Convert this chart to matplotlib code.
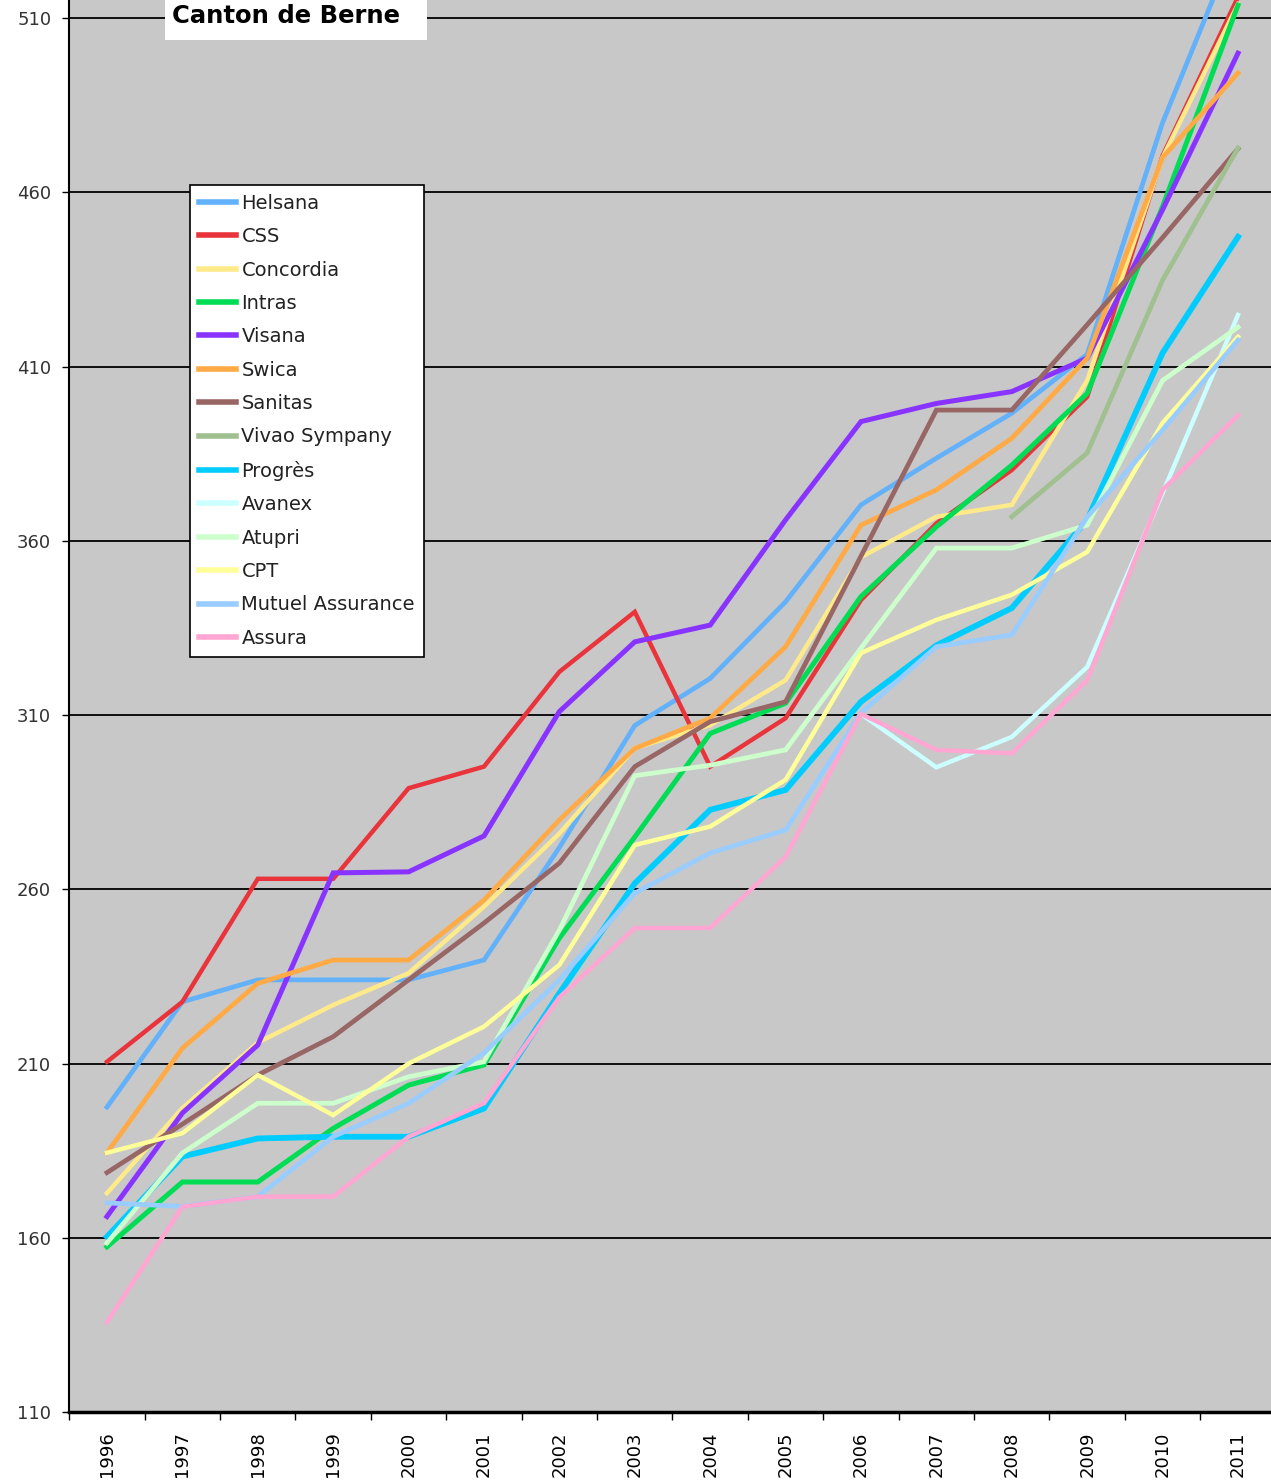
import numpy as np
import matplotlib
matplotlib.use('Agg')
import matplotlib.pyplot as plt
from matplotlib.patches import Rectangle

years = list(range(1996, 2012))
nan = np.nan

helsana = [197.5, 227.7, 234, 234, 234, 239.7, 272, 307, 320.5, 342.5, 370.3, 383.7, 396.6, 413.5, 480, 533]
css = [210.5, 227.7, 263, 263, 289, 295.2, 322.4, 339.6, 295.2, 309.1, 343, 365, 380.3, 401.3, 470.5, 516]
concordia = [172.8, 197.2, 216, 226.8, 235.9, 255, 276, 300.5, 307.1, 320, 355.3, 366.9, 370.3, 406, 470, 514]
intras = [157.4, 176, 176, 191.4, 203.8, 209.6, 246, 275, 304.7, 313.4, 344, 364, 381.7, 402.3, 455.9, 513.7]
visana = [166.1, 195.8, 215.3, 264.7, 265, 275.3, 311, 331, 335.8, 366, 394.2, 399.4, 402.8, 412.4, 455, 499.9]
swica = [184.4, 214.4, 233, 239.7, 239.7, 256.9, 279.9, 300.4, 309.1, 329.6, 364.5, 374.6, 389.4, 412.4, 470, 494.2]
sanitas = [178.7, 192.6, 206.7, 217.7, 234, 250.3, 267.5, 295.2, 308.1, 313.8, 355.6, 397.5, 397.5, 422, 447, 472.5]
vivao = [nan] * 12 + [366.9, 385.2, 434.8, 472.7]
progres = [160.3, 183.3, 188.5, 189, 189, 197.1, 230.2, 261.7, 282.8, 288.5, 313.8, 330, 340.7, 366, 413.9, 447.2]
avanex = [nan] * 10 + [310.3, 295, 303.7, 323.8, 373.7, 424.8]
atupri = [158.5, 184.3, 198.6, 198.6, 206.2, 210.5, 248.3, 292.6, 295.6, 300, 329.2, 357.9, 357.9, 364.5, 406, 421.3]
cpt = [184.4, 190, 206.7, 195.2, 210, 220.6, 238.3, 272.7, 278, 291.4, 327.8, 337.3, 344.5, 356.8, 393.8, 418.5]
mutuel = [170, 169, 171.8, 189, 198.6, 213, 234, 258.9, 270.4, 277, 310.6, 329.6, 333, 366.8, 391.8, 417.6]
assura = [135.8, 168.9, 171.8, 171.8, 189, 198.6, 229, 248.9, 248.9, 269.3, 310.3, 300, 299, 320, 374.6, 396]

series = [
    ("Helsana", helsana, '#63b1fa', 3.4),
    ("CSS", css, '#e8343a', 3.2),
    ("Concordia", concordia, '#ffea8a', 3.2),
    ("Intras", intras, '#00dd55', 3.6),
    ("Visana", visana, '#8833ff', 3.6),
    ("Swica", swica, '#ffaa44', 3.4),
    ("Sanitas", sanitas, '#996666', 3.4),
    ("Vivao Sympany", vivao, '#a0c090', 3.4),
    ("Progrès", progres, '#00ccff', 4.2),
    ("Avanex", avanex, '#ccffff', 3.2),
    ("Atupri", atupri, '#ccffcc', 3.4),
    ("CPT", cpt, '#ffff99', 3.2),
    ("Mutuel Assurance", mutuel, '#99ccff', 3.4),
    ("Assura", assura, '#ffa6d2', 3.2),
]

yticks = list(range(110, 511, 50))

fig = plt.figure(figsize=(12.71, 14.84), dpi=100)
ax = fig.add_axes([0.0545, 0.0485, 0.9492, 0.9515])
ax.set_facecolor('#c8c8c8')

for name, vals, col, lw in series:
    ax.plot(years, vals, color=col, lw=lw, label=name, solid_joinstyle='miter')

ax.set_xlim(1995.5, 2011.5)
ax.set_ylim(110, 515.17)
ax.set_yticks(yticks)
ax.tick_params(axis='y', labelsize=13, length=5, width=1, pad=8)
for t in ax.get_yticklabels():
    t.set_color('#333333')
ax.yaxis.grid(True, color='black', lw=1.3)
ax.set_axisbelow(True)

# ticks sit between the categories, labels at the centres
bounds = [y - 0.5 for y in years] + [2011.5]
ax.set_xticks(bounds)
ax.set_xticklabels([])
ax.set_xticks(years, minor=True)
ax.set_xticklabels([str(y) for y in years], minor=True, rotation=90, fontsize=13)
ax.tick_params(axis='x', which='major', length=6, width=1)
ax.tick_params(axis='x', which='minor', length=0, pad=14)

ax.spines['top'].set_visible(False)
ax.spines['right'].set_visible(False)
ax.spines['left'].set_linewidth(1.5)
ax.spines['bottom'].set_linewidth(2.5)

leg = ax.legend(loc='upper left', bbox_to_anchor=(0.1, 0.869), borderaxespad=0,
                fontsize=14, frameon=True, fancybox=False, edgecolor='black',
                framealpha=1, handlelength=1.9, labelspacing=0.74, handletextpad=0.3,
                borderpad=0.45)
leg.get_frame().set_linewidth(1.2)
for h in leg.get_lines():
    h.set_linewidth(4)
for t in leg.get_texts():
    t.set_color('#222222')

fig.add_artist(Rectangle((165 / 1271, 1 - 40 / 1484), 262 / 1271, 40 / 1484,
                         transform=fig.transFigure, facecolor='white', edgecolor='none', zorder=5))
fig.text(172 / 1271, 1 - 16 / 1484, "Canton de Berne", fontsize=17.5, fontweight='bold',
         va='center', ha='left', zorder=6)

fig.savefig('out.png', dpi=100)
